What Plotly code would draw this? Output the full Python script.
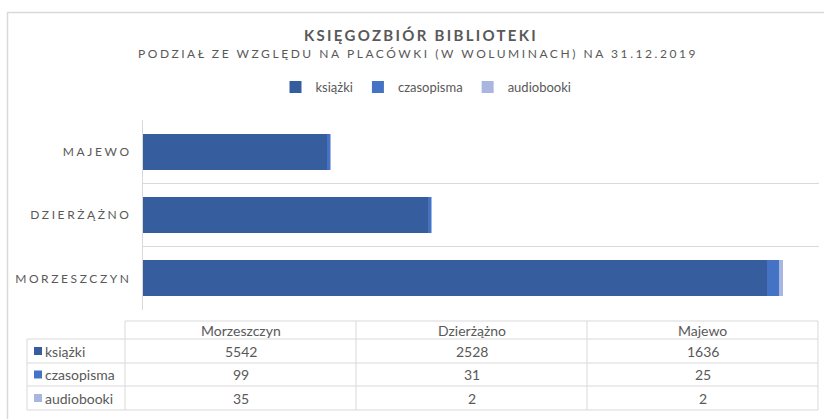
import plotly.graph_objects as go

# ---- data ----
categories = ["Morzeszczyn", "Dzierżążno", "Majewo"]
series_names = ["książki", "czasopisma", "audiobooki"]
ksiazki = [5542, 2528, 1636]
czasopisma = [99, 31, 25]
audiobooki = [35, 2, 2]
series_values = [ksiazki, czasopisma, audiobooki]

title_text = "KSIĘGOZBIÓR BIBLIOTEKI"
subtitle_text = "PODZIAŁ ZE WZGLĘDU NA PLACÓWKI (W WOLUMINACH) NA 31.12.2019"

colors = ["#365E9E", "#4472C4", "#A9B7E0"]
text_color = "#595959"
grid_color = "#D9D9D9"
font_family = "Lato, 'Open Sans', sans-serif"

W, H = 824, 419
L, R, T, B = 143, 819, 120, 310


def px(x):
    return (x - L) / (R - L)


def py(y):
    return (B - y) / (B - T)


fig = go.Figure()
for name, vals, col in zip(series_names, series_values, colors):
    fig.add_trace(go.Bar(
        y=categories, x=vals, name=name, orientation="h",
        marker=dict(color=col, line=dict(width=0)),
        hoverinfo="x+name",
    ))

shapes = []
annotations = []

# outer chart border
shapes.append(dict(type="rect", xref="paper", yref="paper",
                   x0=px(7.5), x1=px(840), y0=py(440), y1=py(12.5),
                   line=dict(color=grid_color, width=1.5), layer="below"))

# title & subtitle
annotations.append(dict(
    xref="paper", yref="paper", x=px(421), y=py(35), xanchor="center", yanchor="middle",
    text=f"<span style='letter-spacing:2.3px'><b>{title_text}</b></span>",
    showarrow=False, font=dict(size=15, color=text_color, family=font_family)))
annotations.append(dict(
    xref="paper", yref="paper", x=px(418), y=py(53), xanchor="center", yanchor="middle",
    text=f"<span style='letter-spacing:2.55px'>{subtitle_text}</span>",
    showarrow=False, font=dict(size=12, color=text_color, family=font_family)))

# ---- data table ----
row_lines = [321, 339, 363, 386, 410]
col_lines = [125, 356, 587, 818]
key_left = 27
lc = dict(color=grid_color, width=1)
# header top
shapes.append(dict(type="line", xref="paper", yref="paper",
                   x0=px(col_lines[0]), x1=px(col_lines[-1]), y0=py(row_lines[0]), y1=py(row_lines[0]), line=lc))
for ry in row_lines[1:]:
    shapes.append(dict(type="line", xref="paper", yref="paper",
                       x0=px(key_left), x1=px(col_lines[-1]), y0=py(ry), y1=py(ry), line=lc))
shapes.append(dict(type="line", xref="paper", yref="paper",
                   x0=px(key_left), x1=px(key_left), y0=py(row_lines[1]), y1=py(row_lines[-1]), line=lc))
for cx in col_lines:
    shapes.append(dict(type="line", xref="paper", yref="paper",
                       x0=px(cx), x1=px(cx), y0=py(row_lines[0]), y1=py(row_lines[-1]), line=lc))

tfont = dict(size=14, color=text_color, family=font_family)
for j, cat in enumerate(categories):
    cxm = (col_lines[j] + col_lines[j + 1]) / 2
    annotations.append(dict(xref="paper", yref="paper", x=px(cxm),
                            y=py((row_lines[0] + row_lines[1]) / 2),
                            text=cat, showarrow=False, xanchor="center", yanchor="middle", font=tfont))
for i, (name, vals, col) in enumerate(zip(series_names, series_values, colors)):
    ym = (row_lines[i + 1] + row_lines[i + 2]) / 2
    shapes.append(dict(type="rect", xref="paper", yref="paper",
                       x0=px(34), x1=px(42), y0=py(ym + 4), y1=py(ym - 4),
                       fillcolor=col, line=dict(width=0)))
    annotations.append(dict(xref="paper", yref="paper", x=px(43), y=py(ym),
                            text=name, showarrow=False, xanchor="left", yanchor="middle", font=tfont))
    for j, v in enumerate(vals):
        cxm = (col_lines[j] + col_lines[j + 1]) / 2
        annotations.append(dict(xref="paper", yref="paper", x=px(cxm), y=py(ym),
                                text=str(v), showarrow=False, xanchor="center", yanchor="middle", font=tfont))

fig.update_layout(
    width=W, height=H,
    barmode="stack", bargap=0.43,
    paper_bgcolor="white", plot_bgcolor="white",
    margin=dict(l=L, r=W - R, t=T, b=H - B, pad=0),
    font=dict(family=font_family, color=text_color, size=12),
    showlegend=True,
    legend=dict(orientation="h", x=px(426), xanchor="center", y=py(87), yanchor="middle",
                font=dict(size=13, color=text_color, family=font_family),
                itemwidth=30, traceorder="normal", bgcolor="rgba(0,0,0,0)"),
    xaxis=dict(range=[0, 6000], showgrid=False, zeroline=False, showticklabels=False,
               showline=False, ticks="", fixedrange=True),
    yaxis=dict(type="category", categoryorder="array", categoryarray=categories,
               tickmode="array", tickvals=categories,
               ticktext=[f"<span style='letter-spacing:2.6px'>{c.upper()}</span>" for c in categories],
               tickson="boundaries", showgrid=True, gridcolor=grid_color, gridwidth=1,
               showline=True, linecolor=grid_color, linewidth=1, ticks="",
               ticklabelstandoff=8,
               tickfont=dict(size=12, color=text_color, family=font_family),
               range=[-0.5, 2.5], fixedrange=True),
    shapes=shapes, annotations=annotations,
)

fig.write_html("out.html", config={"displayModeBar": False},
               post_script="document.body.style.margin='0';document.body.style.overflow='hidden';")
